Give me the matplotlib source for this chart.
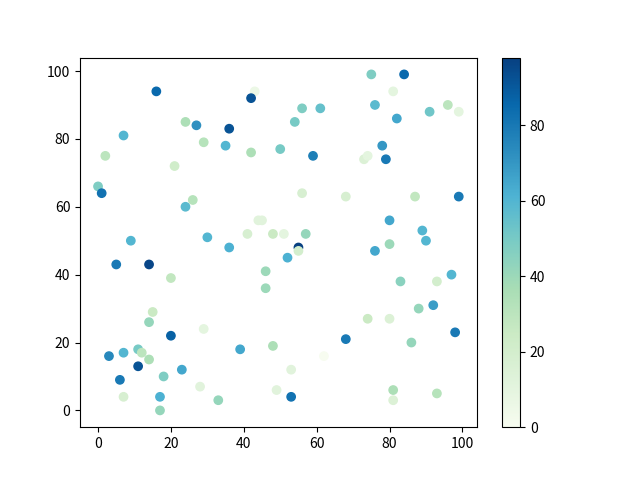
import numpy as np
import matplotlib
matplotlib.use("Agg")
import matplotlib.pyplot as plt

plt.rcParams['font.family'] = ['Noto Sans CJK SC', 'DejaVu Sans']

x = [16, 43, 42, 24, 27, 36, 7, 29, 35, 42, 50, 2, 21, 0, 1, 26, 24, 44, 45, 41,
     48, 9, 30, 36, 5, 14, 46, 46, 20, 15, 14, 29, 20, 39, 48, 3, 7, 11, 12, 14,
     11, 23, 18, 6, 28, 49, 7, 17, 33, 17, 75, 84, 81, 56, 61, 76, 96, 99, 91, 82,
     54, 59, 78, 79, 73, 74, 56, 68, 87, 99, 80, 89, 90, 51, 57, 55, 55, 52, 76, 80,
     97, 83, 93, 88, 92, 74, 80, 98, 68, 86, 62, 53, 53, 81, 81, 93]
y = [94, 94, 92, 85, 84, 83, 81, 79, 78, 76, 77, 75, 72, 66, 64, 62, 60, 56, 56, 52,
     52, 50, 51, 48, 43, 43, 41, 36, 39, 29, 26, 24, 22, 18, 19, 16, 17, 18, 17, 15,
     13, 12, 10, 9, 7, 6, 4, 4, 3, 0, 99, 99, 94, 89, 89, 90, 90, 88, 88, 86,
     85, 75, 78, 74, 74, 75, 64, 63, 63, 63, 56, 53, 50, 52, 52, 48, 47, 45, 47, 49,
     40, 38, 38, 30, 31, 27, 27, 23, 21, 20, 16, 12, 4, 6, 3, 5]
c = [85, 6, 92, 35, 72, 92, 60, 32, 60, 35, 50, 30, 22, 48, 82, 32, 58, 12, 12, 18,
     25, 60, 60, 62, 80, 96, 40, 40, 28, 25, 42, 10, 88, 65, 35, 75, 60, 50, 30, 35,
     92, 65, 48, 80, 12, 12, 18, 62, 42, 42, 48, 85, 10, 48, 55, 58, 30, 10, 52, 65,
     50, 78, 70, 80, 15, 10, 18, 18, 28, 80, 65, 60, 60, 10, 42, 98, 20, 62, 65, 40,
     60, 45, 20, 42, 68, 25, 15, 80, 80, 42, 0, 12, 82, 35, 15, 32]

fig, ax = plt.subplots(figsize=(6.4, 4.8), dpi=100)
sc = ax.scatter(x, y, c=c, cmap='GnBu')
fig.colorbar(sc)
plt.savefig("out.png")
